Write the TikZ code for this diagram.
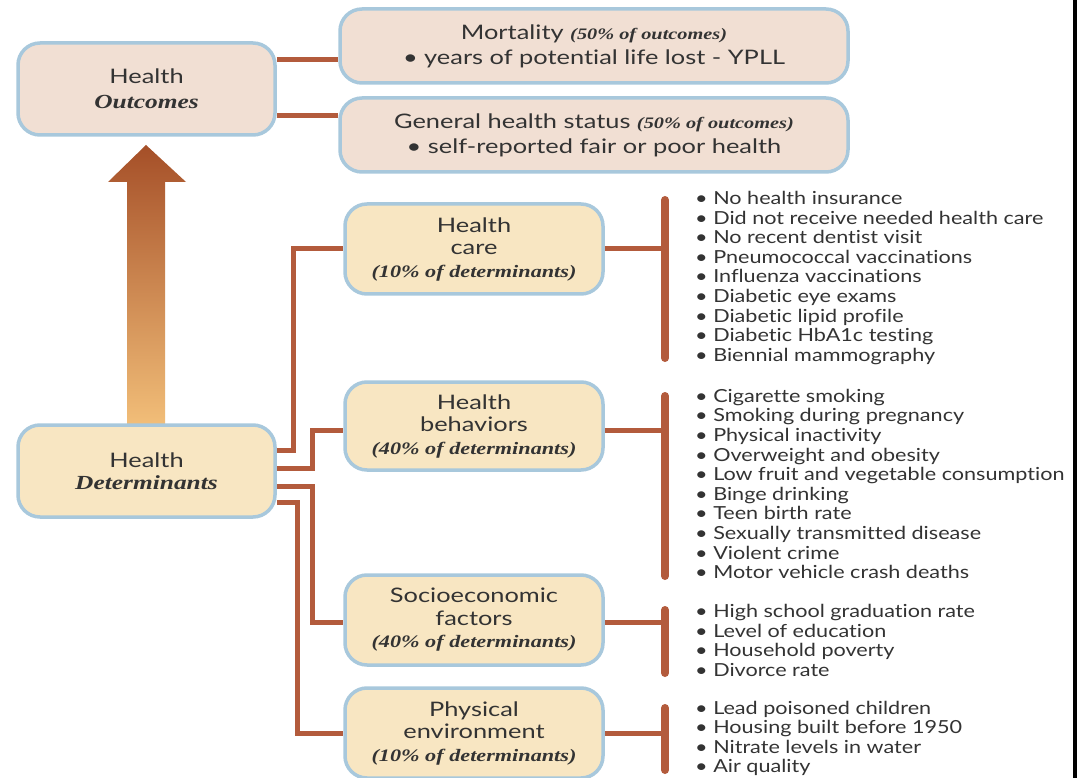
\documentclass[tikz,border=0pt]{standalone}
\usepackage{fontspec}
\setmainfont{Lato}[Ligatures=NoCommon,FakeStretch=1.27]
\newfontfamily\listfont{Lato}[Ligatures=NoCommon,FakeStretch=1.2]
\newfontfamily\pctfont{Liberation Serif}[FakeStretch=1.27]
\usepackage{tikz}
\usetikzlibrary{positioning}
\definecolor{BoxEdge}{HTML}{A8C8DC}
\definecolor{OutcomeFill}{HTML}{F1DFD3}
\definecolor{DetermFill}{HTML}{F8E6C2}
\definecolor{LinkBrown}{HTML}{B35B3C}
\definecolor{TextInk}{HTML}{333333}
\definecolor{ArrowTop}{HTML}{A54F28}
\definecolor{ArrowBottom}{HTML}{F3C07A}
\newcommand{\pct}[2][16]{{\pctfont\bfseries\itshape\fontsize{#1}{20}\selectfont #2}}

\begin{document}
\begin{tikzpicture}[
  x=1pt,y=-1pt,
  font=\fontsize{20}{22.5}\selectfont,
  text=TextInk,
  box/.style={draw=BoxEdge,line width=3.5pt,rounded corners=22pt,align=center,inner sep=0pt},
  outbox/.style={box,fill=OutcomeFill,font=\fontsize{20}{25}\selectfont},
  detbox/.style={box,fill=DetermFill},
  link/.style={draw=LinkBrown,line width=5pt},
  bar/.style={draw=LinkBrown,line width=8pt,line cap=round},
  itemlist/.style={anchor=west,align=left,inner sep=0pt,font=\listfont\fontsize{18}{19.6}\selectfont},
]
  \useasboundingbox (0,0) rectangle (1080,778);
  \fill[white] (0,0) rectangle (1080,778);
  \fill[black] (1073,0) rectangle (1077,778);

  \shade[top color=ArrowTop,bottom color=ArrowBottom]
    (127,430) -- (127,182) -- (108,182) -- (146,145) -- (186,182) -- (165,182) -- (165,430) -- cycle;

  \node[outbox,minimum width=257pt,minimum height=92pt] (outcomes) at (146.5,89)
    {Health\\ \pct[20]{Outcomes}};
  \node[outbox,minimum width=508pt,minimum height=74pt] (mortality) at (594,46)
    {Mortality \pct{(50\% of outcomes)}\\ • years of potential life lost - YPLL};
  \node[outbox,minimum width=508pt,minimum height=74pt] (status) at (594,135)
    {General health status \pct{(50\% of outcomes)}\\ • self-reported fair or poor health};

  \node[detbox,minimum width=257pt,minimum height=92pt] (determinants) at (146.5,471)
    {Health\\ \pct[20]{Determinants}};

  \node[detbox,minimum width=258pt,minimum height=90pt] (care) at (474,249)
    {Health\\ care\\ \pct[17.5]{(10\% of determinants)}};
  \node[detbox,minimum width=258pt,minimum height=88pt] (behav) at (474,426)
    {Health\\ behaviors\\ \pct[17.5]{(40\% of determinants)}};
  \node[detbox,minimum width=258pt,minimum height=90pt] (socio) at (474,620)
    {Socioeconomic\\ factors\\ \pct[17.5]{(40\% of determinants)}};
  \node[detbox,minimum width=258pt,minimum height=90pt] (phys) at (474,733)
    {Physical\\ environment\\ \pct[17.5]{(10\% of determinants)}};

  \draw[link] (outcomes.east |- 0,60) -- (mortality.west |- 0,60);
  \draw[link] (outcomes.east |- 0,116) -- (status.west |- 0,116);

  \draw[link] (determinants.east |- 0,450) -| (293,249) -- (care.west);
  \draw[link] (determinants.east |- 0,468) -| (312,430) -- (behav.west |- 0,430);
  \draw[link] (determinants.east |- 0,486) -| (312,622) -- (socio.west |- 0,622);
  \draw[link] (determinants.east |- 0,502) -| (297,733) -- (phys.west);

  \draw[link] (care.east) -- (665,249);
  \draw[bar] (665,200) -- (665,358);
  \draw[link] (behav.east |- 0,430) -- (665,430);
  \draw[bar] (665,396) -- (665,576);
  \draw[link] (socio.east |- 0,622) -- (665,622);
  \draw[bar] (665,610) -- (665,673);
  \draw[link] (phys.east) -- (665,733);
  \draw[bar] (665,708) -- (665,770);

  \node[itemlist] (careList) at (695,278) {• No health insurance\\ • Did not receive needed health care\\ • No recent dentist visit\\ • Pneumococcal vaccinations\\ • Influenza vaccinations\\ • Diabetic eye exams\\ • Diabetic lipid profile\\ • Diabetic HbA1c testing\\ • Biennial mammography};
  \node[itemlist] (behavList) at (695,484) {• Cigarette smoking\\ • Smoking during pregnancy\\ • Physical inactivity\\ • Overweight and obesity\\ • Low fruit and vegetable consumption\\ • Binge drinking\\ • Teen birth rate\\ • Sexually transmitted disease\\ • Violent crime\\ • Motor vehicle crash deaths};
  \node[itemlist] (socioList) at (695,640.5) {• High school graduation rate\\ • Level of education\\ • Household poverty\\ • Divorce rate};
  \node[itemlist] (physList) at (695,738.5) {• Lead poisoned children\\ • Housing built before 1950\\ • Nitrate levels in water\\ • Air quality};
\end{tikzpicture}
\end{document}
